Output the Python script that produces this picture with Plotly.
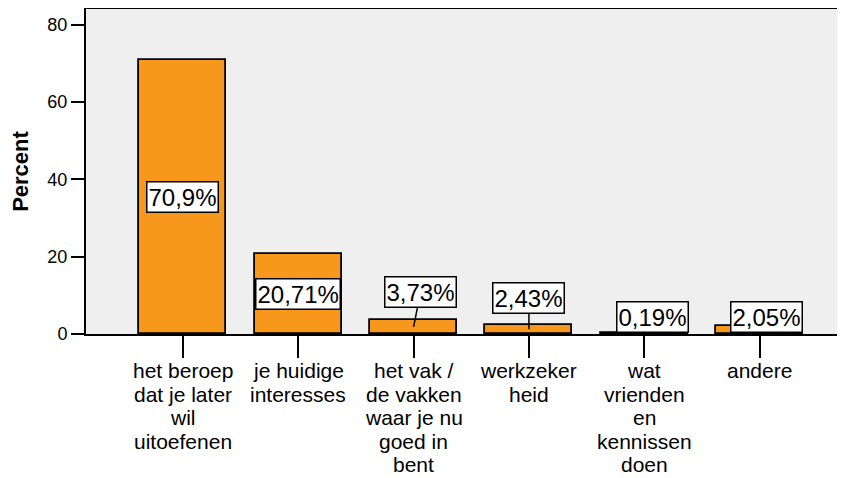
import plotly.graph_objs as go

# categories (x-axis labels, wrapped as in the original)
categories = ['het beroep<br>dat je later<br>wil<br>uitoefenen',
              'je huidige<br>interesses',
              'het vak /<br>de vakken<br>waar je nu<br>goed in<br>bent',
              'werkzeker<br>heid',
              'wat<br>vrienden<br>en<br>kennissen<br>doen',
              'andere']
percent = [70.9, 20.71, 3.73, 2.43, 0.19, 2.05]
value_labels = ['70,9%', '20,71%', '3,73%', '2,43%', '0,19%', '2,05%']

# pixel offsets of the label boxes for bars too small to hold them
label_offsets = [None, None, (7, -35), (0, -31), (8, -17), (7, -13)]

xpos = list(range(len(categories)))

data = [go.Bar(x=xpos,
               y=percent,
               width=0.755,
               marker=dict(color='#F7981D',
                           line=dict(color='black', width=1.8)),
               hoverinfo='skip')]

annotations = []
for i, (v, lab, off) in enumerate(zip(percent, value_labels, label_offsets)):
    a = dict(x=i, y=v / 2, xref='x', yref='y', text=lab,
             font=dict(family='Liberation Sans, Arial', size=24, color='black'),
             bgcolor='white', bordercolor='black', borderwidth=1.5, borderpad=1)
    if off is None:
        a['showarrow'] = False
    else:
        a.update(showarrow=True, arrowhead=0, arrowwidth=1.5, arrowcolor='black',
                 ax=off[0], ay=off[1], standoff=0)
    annotations.append(a)

# category labels: one annotation per line so the line spacing can be tighter
# than plotly's built-in 1.3em
for i, cat in enumerate(categories):
    for k, line in enumerate(cat.split('<br>')):
        annotations.append(dict(x=i, y=0, xref='x', yref='paper', text=line,
                                showarrow=False, xanchor='center', yanchor='top',
                                yshift=-24 - 23.5 * k, borderpad=0,
                                font=dict(family='Liberation Sans, Arial', size=21, color='black')))

# page body has an 8px margin, so the figure is 8px smaller than the window
layout = go.Layout(width=837, height=470,
                   margin=dict(l=78, r=0, t=1, b=144),
                   paper_bgcolor='white',
                   plot_bgcolor='#EFEFEF',
                   font=dict(family='Liberation Sans, Arial', color='black'),
                   showlegend=False,
                   bargap=0,
                   xaxis=dict(range=[-0.84, 5.74], automargin=False,
                              tickmode='array', tickvals=xpos, showticklabels=False,
                              ticks='outside', ticklen=22, tickwidth=2, tickcolor='black',
                              showline=True, linecolor='black', linewidth=2, mirror=True,
                              showgrid=False, zeroline=False),
                   yaxis=dict(range=[0, 84.1], automargin=False,
                              tickvals=[0, 20, 40, 60, 80],
                              tickfont=dict(size=18),
                              ticks='outside', ticklen=13, tickwidth=2, tickcolor='black',
                              showline=True, linecolor='black', linewidth=2,
                              showgrid=False, zeroline=False,
                              title=dict(text='<b>Percent</b>', font=dict(size=22), standoff=13)),
                   annotations=annotations)

fig = go.Figure(data, layout)

fig.write_html('out.html')
